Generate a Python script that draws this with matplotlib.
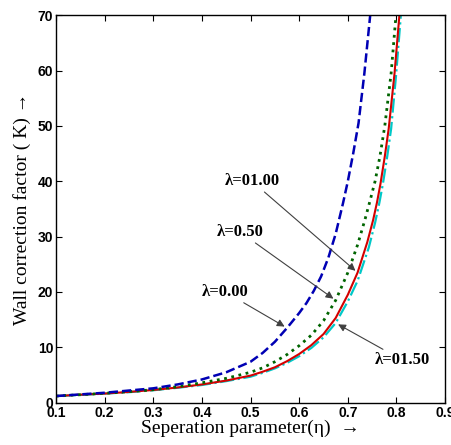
import numpy as np
import matplotlib
matplotlib.use('Agg')
import matplotlib.pyplot as plt

# wall correction factor K against separation parameter eta, one curve per lambda
eta_00 = [0.10, 0.15, 0.20, 0.25, 0.30, 0.35, 0.40, 0.45, 0.50, 0.525, 0.55, 0.575,
          0.60, 0.615, 0.63, 0.645, 0.66, 0.675, 0.69, 0.70, 0.711, 0.722, 0.734, 0.746]
k_00 = [1.2, 1.5, 1.8, 2.2, 2.6, 3.3, 4.2, 5.5, 7.4, 9.0, 11.0, 13.5,
        16.2, 18.0, 20.2, 22.8, 26.2, 30.5, 36.0, 40.0, 45.0, 50.5, 59.5, 70.0]

eta_05 = [0.10, 0.15, 0.20, 0.25, 0.30, 0.35, 0.40, 0.45, 0.50, 0.525, 0.55, 0.575,
          0.60, 0.625, 0.65, 0.675, 0.70, 0.72, 0.735, 0.746, 0.756, 0.766, 0.776,
          0.789, 0.799]
k_05 = [1.2, 1.45, 1.7, 2.0, 2.35, 2.9, 3.6, 4.4, 5.5, 6.3, 7.4, 8.7,
        10.3, 12.2, 14.8, 18.5, 23.5, 28.5, 33.0, 36.6, 40.0, 44.5, 50.0,
        59.5, 70.0]

eta_10 = [0.10, 0.15, 0.20, 0.25, 0.30, 0.35, 0.40, 0.45, 0.50, 0.525, 0.55, 0.575,
          0.60, 0.625, 0.65, 0.675, 0.70, 0.72, 0.74, 0.752, 0.76, 0.767, 0.776,
          0.784, 0.796, 0.806]
k_10 = [1.2, 1.45, 1.65, 1.95, 2.3, 2.75, 3.3, 4.0, 4.9, 5.6, 6.4, 7.5,
        8.8, 10.4, 12.4, 15.3, 19.5, 23.5, 29.0, 33.0, 36.2, 39.5, 44.5,
        49.5, 59.5, 70.0]

eta_15 = [0.10, 0.15, 0.20, 0.25, 0.30, 0.35, 0.40, 0.45, 0.50, 0.525, 0.55, 0.575,
          0.60, 0.625, 0.65, 0.675, 0.70, 0.72, 0.743, 0.756, 0.765, 0.772, 0.781,
          0.789, 0.799, 0.809]
k_15 = [1.2, 1.4, 1.65, 1.9, 2.25, 2.7, 3.2, 3.9, 4.7, 5.4, 6.2, 7.2,
        8.4, 9.9, 11.8, 14.4, 18.3, 22.0, 28.0, 32.5, 36.2, 39.5, 44.5,
        49.5, 59.0, 70.0]

fig = plt.figure(figsize=(4.51, 4.45), dpi=100)
ax = fig.add_axes([0.124, 0.095, 0.863, 0.871])

ax.plot(eta_15, k_15, '-.', color='#00c8c8', lw=1.6)
ax.plot(eta_10, k_10, '-', color='#d40000', lw=1.5)
ax.plot(eta_05, k_05, ':', color='#006400', lw=2.0)
ax.plot(eta_00, k_00, '--', color='#0000b4', lw=1.8)

ax.set_xlim(0.1, 0.9)
ax.set_ylim(0, 70)
ax.set_xticks(np.arange(0.1, 0.91, 0.1))
ax.set_xticklabels(['0.1', '0.2', '0.3', '0.4', '0.5', '0.6', '0.7', '0.8', '0.9'])
ax.set_yticks(range(0, 71, 10))
ax.tick_params(direction='in', top=True, right=True, length=4, width=0.8, pad=2)
for lab in ax.get_xticklabels() + ax.get_yticklabels():
    lab.set_family(['Liberation Sans', 'DejaVu Sans'])
    lab.set_fontweight('bold')
    lab.set_fontsize(10)
for sp in ax.spines.values():
    sp.set_linewidth(1.0)

serif = ['Liberation Serif', 'DejaVu Serif']
ax.set_xlabel('Seperation parameter(η)  →', family=serif, fontsize=14, labelpad=0)
ax.set_ylabel('Wall correction factor ( K) →', family=serif, fontsize=14, labelpad=5)

arrow = dict(arrowstyle='-|>', color='#404040', lw=0.8, mutation_scale=11,
             shrinkA=0, shrinkB=2)
notes = [
    ('λ=01.00', eta_10[17], k_10[17], 0.503, 40.0),
    ('λ=0.50', eta_05[15], k_05[15], 0.479, 30.8),
    ('λ=0.00', eta_00[11], k_00[11], 0.448, 20.0),
    ('λ=01.50', eta_15[15], k_15[15], 0.812, 7.7),
]
for txt, x, y, tx, ty in notes:
    ax.annotate(txt, xy=(x, y), xytext=(tx, ty), ha='center', va='center',
                family=serif, fontweight='bold', fontsize=12, arrowprops=arrow)

fig.savefig('out.png', dpi=100)
